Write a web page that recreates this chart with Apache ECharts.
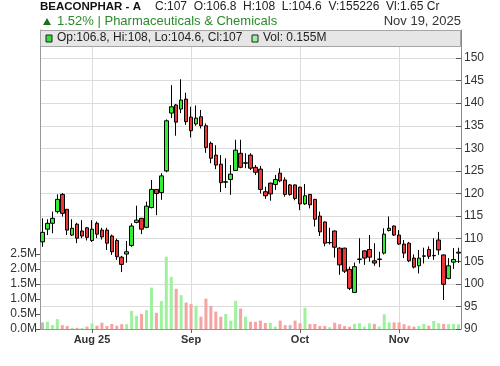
<!DOCTYPE html>
<html><head><meta charset="utf-8">
<script src="https://cdn.jsdelivr.net/npm/echarts@6/dist/echarts.min.js"></script>
<style>html,body{margin:0;padding:0;background:#fff}#c{width:500px;height:366px}</style>
</head><body><div id="c"></div>
<script>
const dates = ['2025-07-18','2025-07-21','2025-07-22','2025-07-23','2025-07-24','2025-07-25','2025-07-28','2025-07-29','2025-07-30','2025-07-31',
'2025-08-01','2025-08-04','2025-08-05','2025-08-06','2025-08-07','2025-08-08','2025-08-11','2025-08-12','2025-08-13','2025-08-14','2025-08-18','2025-08-19','2025-08-20','2025-08-21','2025-08-22','2025-08-25','2025-08-26','2025-08-27','2025-08-28','2025-08-29',
'2025-09-01','2025-09-02','2025-09-03','2025-09-04','2025-09-05','2025-09-08','2025-09-09','2025-09-10','2025-09-11','2025-09-12','2025-09-15','2025-09-16','2025-09-17','2025-09-18','2025-09-19','2025-09-22','2025-09-23','2025-09-24','2025-09-25','2025-09-26','2025-09-29','2025-09-30',
'2025-10-01','2025-10-03','2025-10-06','2025-10-07','2025-10-08','2025-10-09','2025-10-10','2025-10-13','2025-10-14','2025-10-15','2025-10-16','2025-10-17','2025-10-20','2025-10-23','2025-10-24','2025-10-27','2025-10-28','2025-10-29','2025-10-30','2025-10-31',
'2025-11-03','2025-11-04','2025-11-05','2025-11-06','2025-11-07','2025-11-10','2025-11-11','2025-11-12','2025-11-13','2025-11-14','2025-11-17','2025-11-18','2025-11-19'];
const opens = [109.3,112.1,113.4,116.0,119.8,116.5,110.8,113.2,111.7,112.4,
109.6,113.4,111.9,111.9,110.6,109.6,105.9,106.6,108.5,113.6,
114.5,112.5,116.9,120.9,120.2,125.0,137.8,139.6,138.7,140.9,
136.9,135.4,137.0,135.0,131.1,128.5,126.5,122.5,123.1,125.1,
128.9,126.7,128.5,125.8,125.4,120.4,122.3,122.0,124.5,123.0,
121.9,121.9,121.4,117.7,119.8,118.7,115.0,113.7,109.1,111.7,
107.9,107.9,103.2,98.1,105.4,107.3,107.6,105.1,105.4,106.8,
111.8,112.8,110.8,108.8,109.0,105.7,104.0,106.1,107.6,106.2,
109.7,106.4,101.2,104.8,106.8];
const highs = [114.5,114.3,116.0,119.8,120.1,116.5,114.3,113.5,114.1,112.6,
114.1,113.8,112.4,112.4,110.9,110.0,106.2,109.5,113.4,117.3,
114.6,118.2,123.0,121.0,124.5,136.4,144.0,139.8,145.3,142.3,
139.2,139.5,138.5,135.5,131.5,130.7,128.5,127.8,126.3,131.9,
131.9,128.9,128.9,126.3,126.1,121.5,122.4,124.1,125.6,123.6,
122.1,122.0,121.5,122.1,119.9,118.8,116.0,113.8,112.4,111.8,
108.1,108.0,103.8,104.7,110.1,107.4,110.8,109.0,107.1,112.3,
114.9,112.9,111.9,109.7,109.3,106.5,107.5,108.0,108.3,110.1,
111.5,106.5,105.7,107.9,108];
const lows = [108.2,110.8,111.2,115.6,114.9,110.8,110.6,109.0,110.1,109.6,
109.3,110.1,109.8,107.5,106.4,105.3,102.6,104.7,108.2,113.4,
111.0,112.3,116.7,115.2,118.6,124.7,136.7,132.8,137.8,135.2,
132.4,135.0,134.4,129.0,126.7,125.4,120.3,121.2,119.7,125.0,
125.6,125.6,125.2,124.1,120.0,118.8,118.4,120.8,122.5,119.3,
119.5,118.5,116.3,117.5,116.7,112.7,110.6,108.3,108.7,105.8,
102.0,102.4,98.6,98.0,104.5,104.2,104.9,104.0,103.7,106.5,
111.6,110.6,108.6,105.7,104.8,103.4,102.3,104.5,105.5,105.3,
106.4,96.4,101.0,103.3,104.6];
const closes = [111.4,113.4,114.5,118.7,115.6,111.9,112.3,110.1,110.6,110.3,
112.1,111.0,110.4,109.0,107.1,106.0,104.3,107.1,112.8,114.1,
112.1,117.2,120.9,120.0,123.9,136.1,139.2,135.8,140.7,135.9,
133.9,136.7,135.0,130.2,127.8,126.3,122.4,122.6,124.3,129.6,
125.8,126.8,125.6,124.7,120.9,119.5,119.9,123.1,122.8,119.8,
119.8,118.9,117.7,119.5,117.5,114.3,111.5,109.0,109.15,108.1,
104.2,102.8,99.0,103.8,105.5,105.7,105.9,104.6,105.5,111.0,
112.3,110.8,108.8,106.8,105.1,103.7,105.7,106.2,106.1,106.3,
107.5,99.9,104.0,105.4,107];
const volumesM = [0.22,0.24,0.13,0.33,0.13,0.10,0.04,0.04,0.03,0.08,
0.19,0.11,0.21,0.10,0.17,0.11,0.16,0.16,0.60,0.44,
0.50,0.63,1.38,0.54,0.93,2.41,1.74,1.34,1.13,0.88,
0.83,0.77,0.41,1.01,0.77,0.58,0.41,0.50,0.28,0.94,
0.68,0.41,0.24,0.24,0.28,0.20,0.21,0.08,0.28,0.13,
0.13,0.28,0.19,0.71,0.17,0.17,0.10,0.10,0.06,0.21,
0.16,0.10,0.08,0.17,0.19,0.08,0.19,0.17,0.08,0.49,
0.22,0.22,0.22,0.16,0.11,0.08,0.10,0.17,0.11,0.27,
0.19,0.17,0.16,0.17,0.155];
const priceTicks = [90,95,100,105,110,115,120,125,130,135,140,145,150];
const volTicks = [0,0.5,1,1.5,2,2.5];
const monthTickDates = ['2025-08-01','2025-09-01','2025-10-01','2025-11-03'];
const monthTickLabels = ['Aug 25','Sep','Oct','Nov'];

const FONT = "'Liberation Sans', Arial, sans-serif";
const chart = echarts.init(document.getElementById('c'), null, {renderer: 'canvas'});
const candleData = dates.map((d, i) => [opens[i], closes[i], lows[i], highs[i]]);
const volData = volumesM.map((v, i) => {
  let col = '#bdbdbd';
  if (i > 0 && closes[i] > closes[i-1]) col = '#9ef29e';
  else if (i > 0 && closes[i] < closes[i-1]) col = '#f6a3a3';
  return {value: v, itemStyle: {color: col}};
});
const tickIdx = monthTickDates.map(d => dates.indexOf(d));
const labelOf = {};
monthTickDates.forEach((d, k) => labelOf[d] = monthTickLabels[k]);

const option = {
  animation: false,
  backgroundColor: '#fff',
  grid: {left: 40, right: 39, top: 30, bottom: 37, show: false},
  xAxis: {
    type: 'category', data: dates, boundaryGap: true,
    axisLine: {show: true, lineStyle: {color: '#999', width: 1}},
    axisTick: {show: true, alignWithLabel: true, length: 4, interval: (i) => tickIdx.includes(i), lineStyle: {color: '#666'}},
    axisLabel: {interval: (i) => tickIdx.includes(i), formatter: (v) => labelOf[v] || '', color: '#333', fontSize: 11, fontWeight: 'bold', fontFamily: FONT, margin: 5},
    splitLine: {show: false}
  },
  yAxis: [
    {
      type: 'value', position: 'right', min: 90, max: 156.2, interval: 5, scale: true,
      axisLine: {show: true, lineStyle: {color: '#888'}},
      axisTick: {show: true, inside: true, length: 5, customValues: priceTicks, lineStyle: {color: '#555'}},
      axisLabel: {customValues: priceTicks, color: '#333', fontSize: 12, fontFamily: FONT, margin: 3},
      splitLine: {show: true, lineStyle: {color: '#dcdcdc', width: 1}}
    },
    {
      type: 'value', position: 'left', min: 0, max: 9.9667, interval: 0.5,
      axisLine: {show: true, lineStyle: {color: '#999'}},
      axisTick: {show: true, inside: false, length: 4, customValues: volTicks, lineStyle: {color: '#555'}},
      axisLabel: {customValues: volTicks, formatter: (v) => v.toFixed(1) + 'M', color: '#333', fontSize: 12, fontFamily: FONT, margin: 3},
      splitLine: {show: false}
    }
  ],
  series: [
    {
      type: 'bar', yAxisIndex: 1, data: volData, barWidth: 3, z: 1,
      markLine: {
        silent: true, symbol: 'none', label: {show: false}, z: 0,
        lineStyle: {color: '#dcdcdc', type: 'solid', width: 1},
        data: monthTickDates.map(d => ({xAxis: d}))
      }
    },
    {
      type: 'candlestick', yAxisIndex: 0, data: candleData, barWidth: 4, z: 3,
      itemStyle: {color: '#33ee33', color0: '#f03535', borderColor: '#000', borderColor0: '#000', borderColorDoji: '#000', borderWidth: 1}
    }
  ],
  graphic: [
    {type: 'text', left: 40, top: 1, z: 100, style: {text: 'BEACONPHAR - A', font: 'bold 11.5px ' + FONT, fill: '#111'}},
    {type: 'text', left: 155, top: 1, z: 100, style: {text: 'C:107  O:106.8  H:108  L:104.6  V:155226  Vl:1.65 Cr', font: '12px ' + FONT, fill: '#222'}},
    {type: 'polygon', z: 100, shape: {points: [[43, 25], [51, 25], [47, 18]]}, style: {fill: '#1f6e1f'}},
    {type: 'text', left: 57, top: 15, z: 100, style: {text: '1.52% | Pharmaceuticals & Chemicals', font: '13px ' + FONT, fill: '#2b8a2b'}},
    {type: 'text', right: 39, top: 15, z: 100, style: {text: 'Nov 19, 2025', font: '13px ' + FONT, fill: '#333'}},
    {type: 'rect', z: 100, shape: {x: 40.5, y: 30.5, width: 420, height: 16}, style: {fill: '#e6e6e6', stroke: '#a5a5a5', lineWidth: 1}},
    {type: 'rect', z: 101, shape: {x: 46, y: 35, width: 6, height: 7}, style: {fill: '#33dd33', stroke: '#222', lineWidth: 1}},
    {type: 'text', left: 57, top: 32, z: 101, style: {text: 'Op:106.8, Hi:108, Lo:104.6, Cl:107', font: '12px ' + FONT, fill: '#222'}},
    {type: 'rect', z: 101, shape: {x: 252, y: 35, width: 6, height: 7}, style: {fill: '#9ef29e', stroke: '#222', lineWidth: 1}},
    {type: 'text', left: 263, top: 32, z: 101, style: {text: 'Vol: 0.155M', font: '12px ' + FONT, fill: '#222'}}
  ]
};
chart.setOption(option);
</script>
</body></html>
